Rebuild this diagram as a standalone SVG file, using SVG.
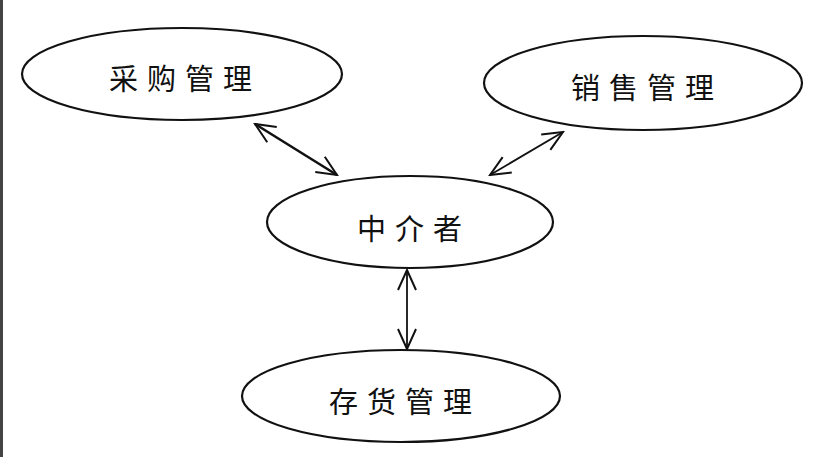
<svg xmlns="http://www.w3.org/2000/svg" width="815" height="457" viewBox="0 0 815 457">
<style>
.n ellipse{fill:#fff;stroke:#111;stroke-width:2.2}
.n text{font-family:"Noto Sans CJK SC","Noto Sans CJK JP",sans-serif;font-size:29px;fill:#111;text-anchor:middle;dominant-baseline:central;letter-spacing:9px}
.c line{stroke:#111;fill:none}
</style>
<defs>
<marker id="ah" markerUnits="userSpaceOnUse" viewBox="-22 -11 24 22" refX="0" refY="0" markerWidth="24" markerHeight="22" orient="auto-start-reverse">
<path d="M-20,-9 L0,0 L-20,9" fill="none" stroke="#111" stroke-width="2"/>
</marker>
</defs>
<rect x="0" y="0" width="3" height="457" fill="#444"/>
<g class="c" id="connectors">
<line x1="255" y1="124" x2="337" y2="175" stroke-width="2.6" marker-start="url(#ah)" marker-end="url(#ah)"/>
<line x1="563" y1="132" x2="490" y2="175" stroke-width="1.8" marker-start="url(#ah)" marker-end="url(#ah)"/>
<line x1="407" y1="270" x2="407" y2="349" stroke-width="1.8" marker-start="url(#ah)" marker-end="url(#ah)"/>
</g>
<g class="n" id="caigou">
<ellipse cx="182" cy="74" rx="160" ry="46"/>
<text x="185" y="77">采购管理</text>
</g>
<g class="n" id="xiaoshou">
<ellipse cx="643" cy="83" rx="159" ry="47"/>
<text x="647" y="86">销售管理</text>
</g>
<g class="n" id="zhongjie">
<ellipse cx="410" cy="222" rx="143" ry="46"/>
<text x="414" y="227">中介者</text>
</g>
<g class="n" id="cunhuo">
<ellipse cx="401" cy="396" rx="159" ry="46"/>
<text x="405" y="400">存货管理</text>
</g>
</svg>
